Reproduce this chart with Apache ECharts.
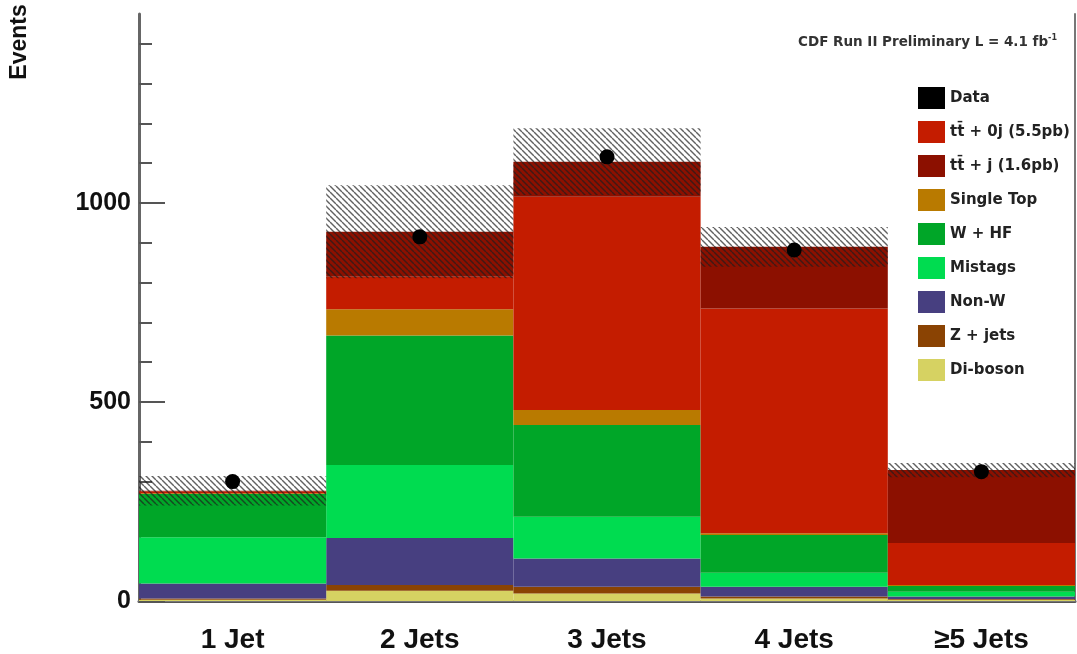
<!DOCTYPE html>
<html>
<head>
<meta charset="utf-8">
<script src="https://cdn.jsdelivr.net/npm/echarts@6/dist/echarts.min.js"></script>
<style>
  html, body { margin: 0; padding: 0; background: #fff; }
  #chart { width: 1077px; height: 654px; }
</style>
</head>
<body>
<div id="chart"></div>
<script>
// Jet-multiplicity bins
const categories = ['1 Jet', '2 Jets', '3 Jets', '4 Jets', '\u22655 Jets'];

// Expected events per process (stacked from the bottom up)
const diboson   = [3, 26, 19, 6, 3];
const zJets     = [3, 14, 17, 5, 2];
const nonW      = [38, 118, 71, 25, 6];
const mistags   = [116, 184, 105, 35, 12];
const wHF       = [109, 325, 230, 95, 15];
const singleTop = [2, 66, 38, 4, 2];
const ttbar0j   = [5, 82, 536, 565, 106];
const ttbarJ    = [1, 113, 88, 155, 183];

// Observed events and the systematic band half-width
const observed  = [300, 915, 1116, 882, 325];
const systUnc   = [37, 117, 84, 50, 18];

// Y-axis ticks: labelled major ticks and minor ticks
const yMajorTicks = [0, 500, 1000];
const yMinorTicks = [0, 100, 200, 300, 400, 500, 600, 700, 800, 900, 1000, 1100, 1200, 1300, 1400];

const SANS = '"Liberation Sans", Arial, Helvetica, sans-serif';
const WIDE = '"DejaVu Sans", Verdana, sans-serif';

const stackDefs = [
  { name: 'Di-boson',                   data: diboson,   color: '#d6d262' },
  { name: 'Z + jets',                   data: zJets,     color: '#8a4303' },
  { name: 'Non-W',                      data: nonW,      color: '#473f80' },
  { name: 'Mistags',                    data: mistags,   color: '#00dc50' },
  { name: 'W + HF',                     data: wHF,       color: '#00a628' },
  { name: 'Single Top',                 data: singleTop, color: '#b97a00' },
  { name: 't\u0074\u0304 + 0j (5.5pb)', data: ttbar0j,   color: '#c41c00' },
  { name: 't\u0074\u0304 + j (1.6pb)',  data: ttbarJ,    color: '#8c1000' }
];

const totals = categories.map((_, i) =>
  stackDefs.reduce((s, d) => s + d.data[i], 0));

// Diagonal hatch used for the systematic uncertainty band
function hatchPattern() {
  const c = document.createElement('canvas');
  const n = 6;
  c.width = n; c.height = n;
  const g = c.getContext('2d');
  g.strokeStyle = 'rgba(30,30,30,0.7)';
  g.lineWidth = 1.4;
  for (const off of [-n, 0, n]) {
    g.beginPath();
    g.moveTo(off, 0);
    g.lineTo(off + n, n);
    g.stroke();
  }
  return c;
}
const hatch = hatchPattern();

const chart = echarts.init(document.getElementById('chart'), null, { renderer: 'canvas' });

const series = stackDefs.map(d => ({
  name: d.name,
  type: 'bar',
  stack: 'mc',
  data: d.data,
  barCategoryGap: '0%',
  itemStyle: { color: d.color },
  emphasis: { disabled: true },
  z: 2
}));

series.push({
  name: 'syst',
  type: 'custom',
  data: categories.map((_, i) => [i, totals[i], systUnc[i]]),
  renderItem: function (params, api) {
    const idx = api.value(0);
    const tot = api.value(1);
    const u = api.value(2);
    const top = api.coord([idx, tot + u]);
    const bot = api.coord([idx, tot - u]);
    const w = api.size([1, 0])[0];
    return {
      type: 'rect',
      shape: { x: top[0] - w / 2, y: top[1], width: w, height: bot[1] - top[1] },
      style: { fill: { image: hatch, repeat: 'repeat' }, stroke: null }
    };
  },
  z: 3,
  silent: true
});

series.push({
  name: 'Data',
  type: 'scatter',
  data: observed,
  symbol: 'circle',
  symbolSize: 15,
  itemStyle: { color: '#000', opacity: 1 },
  z: 5
});

// Legend lists data first, then the processes from the top of the stack down
const legendOrder = [6, 7, 5, 4, 3, 2, 1, 0];
const legendNames = ['Data'].concat(legendOrder.map(k => stackDefs[k].name));

chart.setOption({
  animation: false,
  backgroundColor: '#fff',
  grid: { left: 139, right: 2, top: 14, bottom: 53, containLabel: false },
  legend: {
    data: legendNames,
    orient: 'vertical',
    left: 913,
    top: 82,
    icon: 'rect',
    itemWidth: 27,
    itemHeight: 22,
    itemGap: 12,
    selectedMode: false,
    textStyle: { fontFamily: WIDE, fontWeight: 'bold', fontSize: 15, color: '#222' }
  },
  xAxis: [
    {
      type: 'category',
      data: categories,
      boundaryGap: true,
      axisLine: { lineStyle: { color: '#555', width: 3 } },
      axisTick: { show: false },
      axisLabel: { fontFamily: SANS, fontWeight: 'bold', fontSize: 28, color: '#111', margin: 25 }
    },
    {
      type: 'category',
      data: categories,
      position: 'top',
      axisLine: { lineStyle: { color: '#777', width: 2 } },
      axisTick: { show: false },
      axisLabel: { show: false }
    }
  ],
  yAxis: [
    {
      type: 'value',
      min: 0,
      max: 1475,
      interval: 500,
      axisLine: { show: true, lineStyle: { color: '#666', width: 3 } },
      axisTick: {
        show: true, inside: true, length: 26, customValues: yMajorTicks,
        lineStyle: { color: '#555', width: 2 }
      },
      axisLabel: {
        fontFamily: SANS, fontWeight: 'bold', fontSize: 25, color: '#111', margin: 8,
        customValues: yMajorTicks,
        formatter: v => String(v)
      },
      splitLine: { show: false }
    },
    {
      type: 'value',
      min: 0,
      max: 1475,
      interval: 100,
      position: 'left',
      axisLine: { show: false },
      axisTick: {
        show: true, inside: true, length: 13, customValues: yMinorTicks,
        lineStyle: { color: '#555', width: 2 }
      },
      axisLabel: { show: false },
      splitLine: { show: false }
    },
    {
      type: 'value',
      min: 0,
      max: 1475,
      position: 'right',
      axisLine: { show: true, lineStyle: { color: '#777', width: 2 } },
      axisTick: { show: false },
      axisLabel: { show: false },
      splitLine: { show: false }
    }
  ],
  graphic: [
    {
      type: 'text',
      x: 20,
      y: 42,
      rotation: Math.PI / 2,
      style: {
        text: 'Events',
        font: 'bold 23px ' + SANS,
        fill: '#111',
        align: 'center',
        verticalAlign: 'middle'
      },
      z: 10
    },
    {
      type: 'text',
      right: 20,
      top: 34,
      style: {
        text: '{a|CDF Run II Preliminary L = 4.1 fb}{s|-1}',
        rich: {
          a: { font: 'bold 13.5px ' + WIDE, fill: '#333', lineHeight: 16 },
          s: { font: 'bold 8px ' + WIDE, fill: '#333', verticalAlign: 'top', lineHeight: 16 }
        }
      },
      z: 10
    }
  ],
  series: series
});
</script>
</body>
</html>
